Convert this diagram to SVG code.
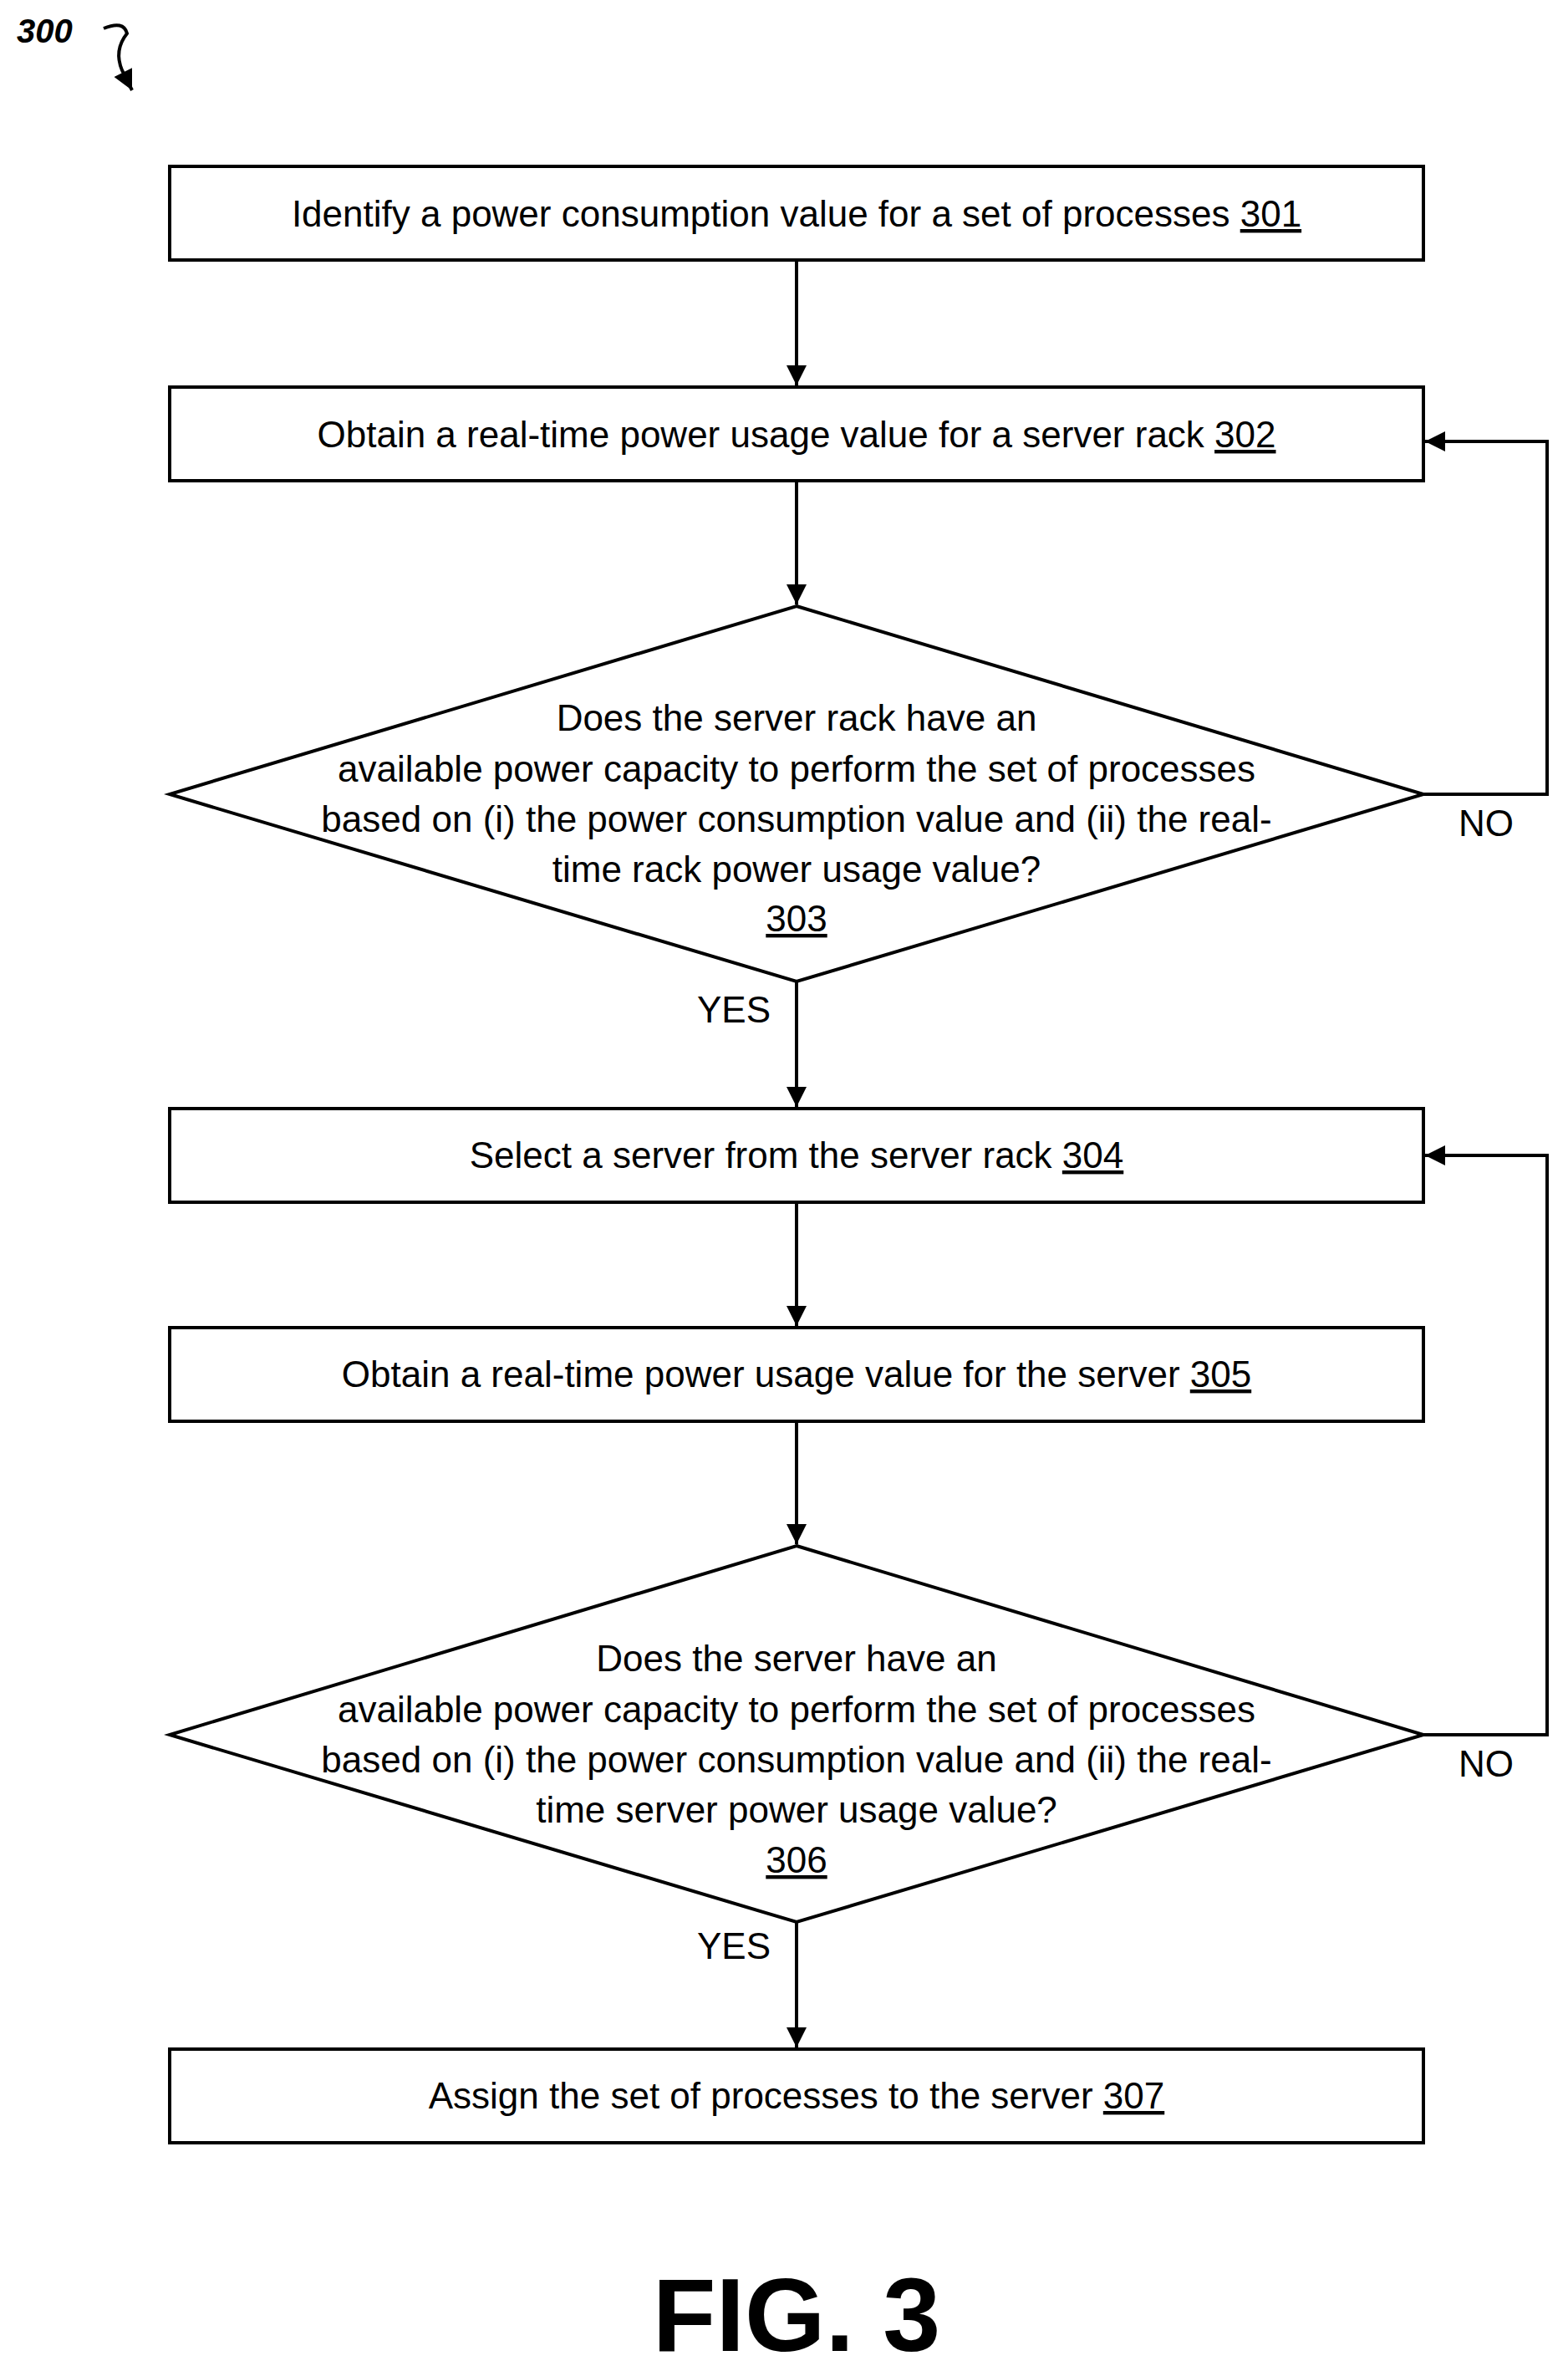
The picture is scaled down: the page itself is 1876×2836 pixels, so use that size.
<svg xmlns="http://www.w3.org/2000/svg" width="1876" height="2836" viewBox="0 0 1876 2836">
<style>
.n{fill:#fff;stroke:#000;stroke-width:4}
.t{font-family:"Liberation Sans",Arial,sans-serif;font-size:44px;text-anchor:middle;fill:#000}
.c{fill:none;stroke:#000;stroke-width:4}
</style>
<defs><marker id="b" viewBox="0 0 10 10" refX="10" refY="5" markerWidth="6" markerHeight="7" orient="auto"><path d="M0,0L10,5L0,10z"/></marker></defs>
<rect width="1876" height="2836" fill="#fff"/>
<text x="20" y="51" font-family="Liberation Sans,sans-serif" font-size="40" font-weight="bold" font-style="italic">300</text>
<path d="M124,34 Q148,24 152,40 Q136,60 146,84 L158,108" class="c" stroke-width="3" marker-end="url(#b)"/>
<g id="connectors">
<line x1="953" y1="311" x2="953" y2="461" class="c" marker-end="url(#b)"/>
<line x1="953" y1="575" x2="953" y2="723" class="c" marker-end="url(#b)"/>
<polyline points="1703,950 1851,950 1851,528 1705,528" class="c" marker-end="url(#b)"/>
<line x1="953" y1="1174" x2="953" y2="1324" class="c" marker-end="url(#b)"/>
<line x1="953" y1="1438" x2="953" y2="1586" class="c" marker-end="url(#b)"/>
<line x1="953" y1="1700" x2="953" y2="1847" class="c" marker-end="url(#b)"/>
<polyline points="1703,2075 1851,2075 1851,1382 1705,1382" class="c" marker-end="url(#b)"/>
<line x1="953" y1="2299" x2="953" y2="2449" class="c" marker-end="url(#b)"/>
<text x="1778" y="1000" class="t">NO</text>
<text x="878" y="1223" class="t">YES</text>
<text x="1778" y="2125" class="t">NO</text>
<text x="878" y="2343" class="t">YES</text>
</g>
<g id="n301"><rect x="203" y="199" width="1500" height="112" class="n"/><text x="953" y="271" class="t">Identify a power consumption value for a set of processes <tspan text-decoration="underline">301</tspan></text></g>
<g id="n302"><rect x="203" y="463" width="1500" height="112" class="n"/><text x="953" y="535" class="t">Obtain a real-time power usage value for a server rack <tspan text-decoration="underline">302</tspan></text></g>
<g id="n303"><polygon points="953,725 1703,950 953,1174 203,950" class="n"/>
<text class="t"><tspan x="953" y="874">Does the server rack have an</tspan><tspan x="953" y="935">available power capacity to perform the set of processes</tspan><tspan x="953" y="995">based on (i) the power consumption value and (ii) the real-</tspan><tspan x="953" y="1055">time rack power usage value?</tspan><tspan x="953" y="1114" text-decoration="underline">303</tspan></text></g>
<g id="n304"><rect x="203" y="1326" width="1500" height="112" class="n"/><text x="953" y="1397" class="t">Select a server from the server rack <tspan text-decoration="underline">304</tspan></text></g>
<g id="n305"><rect x="203" y="1588" width="1500" height="112" class="n"/><text x="953" y="1659" class="t">Obtain a real-time power usage value for the server <tspan text-decoration="underline">305</tspan></text></g>
<g id="n306"><polygon points="953,1849 1703,2075 953,2299 203,2075" class="n"/>
<text class="t"><tspan x="953" y="1999">Does the server have an</tspan><tspan x="953" y="2060">available power capacity to perform the set of processes</tspan><tspan x="953" y="2120">based on (i) the power consumption value and (ii) the real-</tspan><tspan x="953" y="2180">time server power usage value?</tspan><tspan x="953" y="2240" text-decoration="underline">306</tspan></text></g>
<g id="n307"><rect x="203" y="2451" width="1500" height="112" class="n"/><text x="953" y="2522" class="t">Assign the set of processes to the server <tspan text-decoration="underline">307</tspan></text></g>
<text x="953" y="2812" font-family="Liberation Sans,Arial,sans-serif" font-size="124" font-weight="bold" text-anchor="middle">FIG. 3</text>
</svg>
